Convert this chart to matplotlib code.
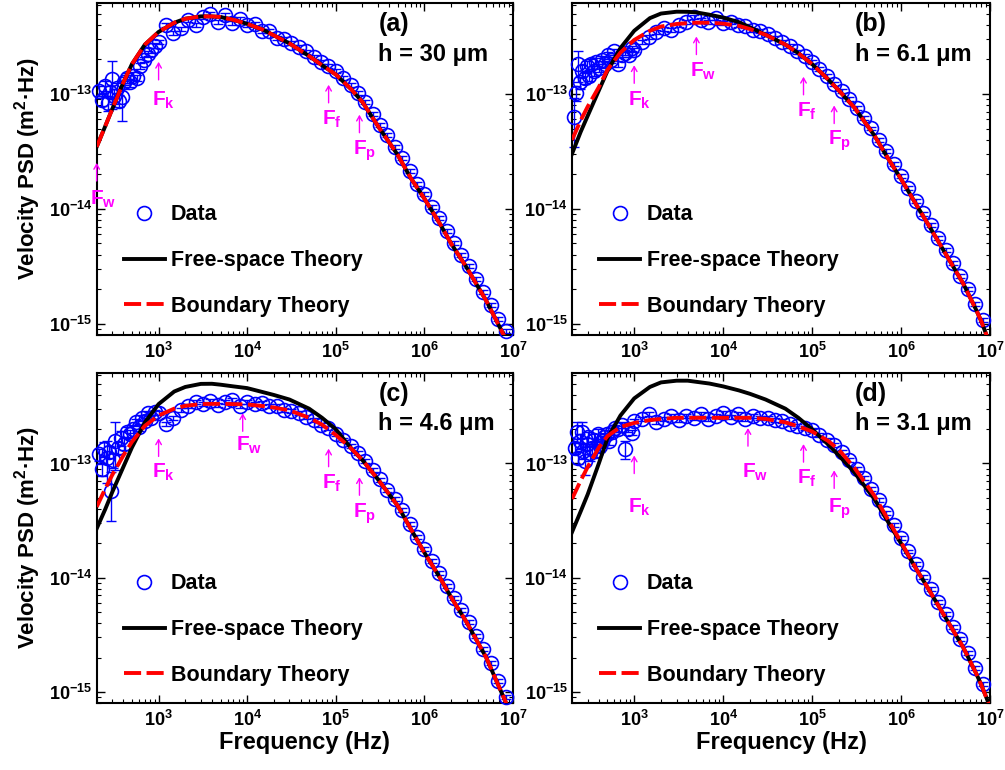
import numpy as np
import matplotlib
matplotlib.use('Agg')
import matplotlib.pyplot as plt
from matplotlib.ticker import FixedLocator, NullFormatter

plt.rcParams['font.family'] = ['Liberation Sans', 'DejaVu Sans']
plt.rcParams['font.weight'] = 'bold'
plt.rcParams['axes.labelweight'] = 'bold'
plt.rcParams['mathtext.fontset'] = 'custom'
plt.rcParams['mathtext.rm'] = 'Liberation Sans:bold'
plt.rcParams['mathtext.it'] = 'Liberation Sans:bold'
plt.rcParams['mathtext.bf'] = 'Liberation Sans:bold'
plt.rcParams['mathtext.default'] = 'regular'

# theory curves are given as log10(PSD) on this frequency grid
f_th = [200, 250, 300, 400, 500, 700, 1e3, 1.5e3, 2e3, 3e3, 4e3, 5e3, 7e3,
        1e4, 1.5e4, 2e4, 3e4, 5e4, 7e4, 1e5, 1.5e5, 2e5, 3e5, 5e5, 7e5,
        1e6, 1.5e6, 2e6, 3e6, 5e6, 7e6, 8e6, 1e7]

log_free_a = [-13.46, -13.28, -13.13, -12.90, -12.74, -12.57, -12.46, -12.38, -12.345, -12.325, -12.325,
              -12.33, -12.355, -12.39, -12.44, -12.49, -12.56, -12.67, -12.75, -12.83, -12.96, -13.07,
              -13.28, -13.53, -13.73, -13.91, -14.13, -14.30, -14.51, -14.80, -15.02, -15.11, -15.30]
log_bound_a = [-13.46, -13.28, -13.13, -12.90, -12.74, -12.57, -12.46, -12.38, -12.345, -12.325, -12.325,
               -12.33, -12.355, -12.39, -12.44, -12.49, -12.56, -12.67, -12.75, -12.83, -12.96, -13.07,
               -13.28, -13.53, -13.73, -13.91, -14.13, -14.30, -14.51, -14.80, -15.02, -15.11, -15.30]

log_free_b = [-13.52, -13.33, -13.19, -12.97, -12.80, -12.60, -12.45, -12.34, -12.30, -12.284, -12.285,
              -12.29, -12.31, -12.335, -12.375, -12.42, -12.485, -12.57, -12.645, -12.74, -12.87, -12.97,
              -13.12, -13.36, -13.55, -13.74, -13.97, -14.13, -14.36, -14.65, -14.88, -14.98, -15.18]
log_bound_b = [-13.40, -13.23, -13.11, -12.94, -12.79, -12.64, -12.53, -12.45, -12.413, -12.391, -12.383,
               -12.38, -12.38, -12.388, -12.407, -12.435, -12.485, -12.57, -12.645, -12.74, -12.87, -12.97,
               -13.12, -13.36, -13.55, -13.74, -13.97, -14.13, -14.36, -14.65, -14.88, -14.98, -15.18]

log_free_c = [-13.57, -13.40, -13.25, -13.03, -12.86, -12.64, -12.48, -12.37, -12.33, -12.303, -12.302,
              -12.31, -12.325, -12.34, -12.375, -12.40, -12.44, -12.52, -12.60, -12.70, -12.87, -12.97,
              -13.14, -13.37, -13.57, -13.78, -14.00, -14.17, -14.39, -14.70, -14.96, -15.06, -15.25]
log_bound_c = [-13.38, -13.22, -13.10, -12.93, -12.81, -12.67, -12.58, -12.52, -12.495, -12.48, -12.478,
               -12.478, -12.48, -12.483, -12.497, -12.51, -12.535, -12.60, -12.66, -12.75, -12.87, -12.97,
               -13.14, -13.37, -13.57, -13.78, -14.00, -14.17, -14.39, -14.70, -14.96, -15.06, -15.25]

log_free_d = [-13.60, -13.42, -13.27, -13.00, -12.78, -12.58, -12.43, -12.33, -12.29, -12.275, -12.275,
              -12.285, -12.30, -12.325, -12.36, -12.39, -12.44, -12.52, -12.60, -12.70, -12.83, -12.93,
              -13.08, -13.31, -13.50, -13.70, -13.93, -14.09, -14.32, -14.61, -14.84, -14.94, -15.13]
log_bound_d = [-13.31, -13.15, -13.03, -12.86, -12.76, -12.68, -12.645, -12.62, -12.61, -12.60, -12.60,
               -12.60, -12.60, -12.60, -12.60, -12.60, -12.61, -12.64, -12.675, -12.72, -12.80, -12.88,
               -13.04, -13.28, -13.48, -13.69, -13.93, -14.09, -14.32, -14.61, -14.84, -14.94, -15.13]

# measured spectra above 1 kHz (log-binned, shared frequencies)
f_data = [1000, 1210, 1470, 1780, 2150, 2610, 3160, 3830, 4640, 5620, 6810, 8250,
          1.0e4, 1.21e4, 1.47e4, 1.78e4, 2.15e4, 2.61e4, 3.16e4, 3.83e4, 4.64e4, 5.62e4, 6.81e4, 8.25e4,
          1.0e5, 1.21e5, 1.47e5, 1.78e5, 2.15e5, 2.61e5, 3.16e5, 3.83e5, 4.64e5, 5.62e5, 6.81e5, 8.25e5,
          1.0e6, 1.21e6, 1.47e6, 1.78e6, 2.15e6, 2.61e6, 3.16e6, 3.83e6, 4.64e6, 5.62e6, 6.81e6, 8.25e6]

log_data_a = [-12.55, -12.40, -12.47, -12.43, -12.36, -12.40, -12.33, -12.30, -12.37, -12.31, -12.38, -12.35,
              -12.40, -12.39, -12.45, -12.45, -12.51, -12.52, -12.56, -12.59, -12.63, -12.68, -12.72, -12.76,
              -12.80, -12.86, -12.92, -12.99, -13.07, -13.17, -13.27, -13.36, -13.46, -13.56, -13.67, -13.78,
              -13.87, -13.98, -14.08, -14.19, -14.30, -14.40, -14.50, -14.61, -14.72, -14.84, -14.96, -15.06]
log_data_b = [-12.62, -12.55, -12.50, -12.46, -12.43, -12.44, -12.40, -12.37, -12.33, -12.36, -12.37, -12.34,
              -12.38, -12.37, -12.40, -12.41, -12.44, -12.45, -12.48, -12.51, -12.55, -12.58, -12.63, -12.67,
              -12.72, -12.78, -12.84, -12.91, -12.97, -13.04, -13.12, -13.21, -13.30, -13.40, -13.50, -13.61,
              -13.71, -13.82, -13.93, -14.04, -14.14, -14.25, -14.36, -14.47, -14.58, -14.70, -14.83, -14.97]
log_data_c = [-12.56, -12.65, -12.60, -12.53, -12.50, -12.46, -12.48, -12.45, -12.49, -12.46, -12.44, -12.50,
              -12.46, -12.48, -12.47, -12.50, -12.50, -12.53, -12.54, -12.56, -12.59, -12.62, -12.66, -12.69,
              -12.74, -12.79, -12.85, -12.91, -12.98, -13.06, -13.14, -13.23, -13.31, -13.41, -13.53, -13.64,
              -13.75, -13.85, -13.96, -14.07, -14.18, -14.28, -14.39, -14.51, -14.62, -14.75, -14.90, -15.04]
log_data_d = [-12.63, -12.61, -12.57, -12.64, -12.61, -12.58, -12.62, -12.58, -12.60, -12.57, -12.61, -12.58,
              -12.56, -12.59, -12.57, -12.61, -12.58, -12.60, -12.60, -12.62, -12.63, -12.65, -12.67, -12.69,
              -12.71, -12.75, -12.79, -12.84, -12.90, -12.97, -13.05, -13.13, -13.22, -13.32, -13.43, -13.54,
              -13.65, -13.77, -13.88, -13.99, -14.10, -14.21, -14.32, -14.43, -14.54, -14.66, -14.79, -14.93]
rel_err_data = 0.04

# noisy low-frequency part of each spectrum, with relative error bars
f_low_a = [215, 230, 250, 265, 280, 295, 315, 340, 360, 383, 410, 440, 470, 520, 570, 620, 680, 750, 825, 900]
log_low_a = [-12.97, -13.05, -12.93, -13.08, -12.98, -12.87, -13.02, -12.95, -13.06, -13.03, -12.90, -12.86,
             -12.90, -12.84, -12.86, -12.76, -12.70, -12.65, -12.62, -12.58]
err_low_a = [0.10, 0.12, 0.10, 0.15, 0.12, 0.45, 0.15, 0.10, 0.12, 0.38, 0.12, 0.10,
             0.08, 0.08, 0.06, 0.06, 0.05, 0.05, 0.05, 0.05]

f_low_b = [210, 222, 235, 248, 262, 277, 293, 310, 330, 352, 376, 402, 432, 465, 505, 550, 600, 655, 720,
           790, 865, 940]
log_low_b = [-13.20, -12.99, -12.74, -12.90, -12.80, -12.86, -12.76, -12.84, -12.74, -12.80, -12.72, -12.77,
             -12.70, -12.74, -12.66, -12.70, -12.63, -12.74, -12.66, -12.64, -12.66, -12.60]
err_low_b = [0.45, 0.15, 0.30, 0.12, 0.12, 0.12, 0.12, 0.10, 0.10, 0.10, 0.08, 0.08, 0.08, 0.07, 0.07,
             0.06, 0.06, 0.06, 0.05, 0.05, 0.05, 0.05]

f_low_c = [215, 230, 245, 260, 275, 290, 305, 325, 350, 375, 405, 435, 470, 510, 555, 600, 650, 705, 765,
           830, 900]
log_low_c = [-12.92, -13.05, -12.87, -12.95, -12.90, -13.24, -12.97, -12.80, -12.86, -12.78, -12.83, -12.72,
             -12.74, -12.70, -12.64, -12.68, -12.60, -12.63, -12.56, -12.60, -12.55]
err_low_c = [0.12, 0.12, 0.15, 0.40, 0.12, 0.45, 0.15, 0.45, 0.12, 0.15, 0.12, 0.10, 0.08, 0.08, 0.07,
             0.07, 0.06, 0.06, 0.05, 0.05, 0.05]

f_low_d = [215, 225, 236, 248, 257, 268, 280, 293, 306, 320, 336, 352, 370, 390, 412, 436, 462, 492, 525,
           565, 610, 660, 720, 787, 860, 940]
log_low_d = [-12.86, -12.72, -12.95, -12.80, -12.72, -12.89, -12.98, -12.83, -12.77, -12.91, -12.86, -12.79,
             -12.89, -12.74, -12.85, -12.80, -12.77, -12.74, -12.80, -12.72, -12.69, -12.70, -12.66, -12.875,
             -12.70, -12.73]
err_low_d = [0.12, 0.20, 0.12, 0.15, 0.20, 0.15, 0.25, 0.12, 0.12, 0.15, 0.12, 0.12, 0.12, 0.10, 0.10,
             0.10, 0.08, 0.08, 0.08, 0.07, 0.07, 0.06, 0.06, 0.18, 0.06, 0.05]

# characteristic frequencies: (subscript, frequency, arrow tip log10, label baseline log10)
marks_a = [('k', 1.0e3, -12.72, -13.10), ('f', 8.3e4, -12.92, -13.27), ('p', 1.85e5, -13.18, -13.53),
           ('w', 200, -13.60, -13.965)]
marks_b = [('k', 1.0e3, -12.75, -13.10), ('w', 5.0e3, -12.50, -12.85), ('f', 8.0e4, -12.85, -13.20),
           ('p', 1.77e5, -13.10, -13.443)]
marks_c = [('k', 1.0e3, -12.78, -13.124), ('w', 8.9e3, -12.56, -12.89), ('f', 8.3e4, -12.87, -13.22),
           ('p', 1.85e5, -13.12, -13.472)]
marks_d = [('k', 1.0e3, -12.93, -13.43), ('w', 1.9e4, -12.69, -13.124), ('f', 8.0e4, -12.83, -13.177),
           ('p', 1.77e5, -13.06, -13.43)]

tags = ['(a)', '(b)', '(c)', '(d)']
heights = ['h = 30 μm', 'h = 6.1 μm', 'h = 4.6 μm', 'h = 3.1 μm']

x_major = [1e3, 1e4, 1e5, 1e6, 1e7]
y_major = [1e-15, 1e-14, 1e-13]

BLUE = '#0000FF'
MAGENTA = '#FF00FF'


def draw_panel(ax, log_free, log_bound, log_data, f_low, log_low, err_low, marks, tag, h_text):
    p_low = 10.0 ** np.array(log_low)
    p_data = 10.0 ** np.array(log_data)
    f_all = np.concatenate([f_low, f_data])
    p_all = np.concatenate([p_low, p_data])
    err_all = np.concatenate([p_low * np.array(err_low), p_data * rel_err_data])

    ax.errorbar(f_all, p_all, yerr=err_all, fmt='none', ecolor=BLUE, elinewidth=1.0,
                capsize=3.5, capthick=1.0, zorder=2, clip_on=False)
    h_data, = ax.plot(f_all, p_all, ls='none', marker='o', ms=10, mfc='none', mec=BLUE,
                      mew=1.2, zorder=3, clip_on=False)
    h_free, = ax.plot(f_th, 10.0 ** np.array(log_free), color='black', lw=2.8, zorder=4)
    h_bound, = ax.plot(f_th, 10.0 ** np.array(log_bound), color='#FF0000', lw=2.8,
                       dashes=(4.4, 1.4), zorder=5)

    for sub, f0, tip, base in marks:
        ax.annotate('', xy=(f0, 10.0 ** tip), xytext=(0, -13), textcoords='offset points',
                    arrowprops=dict(arrowstyle='->,head_length=0.35,head_width=0.2', color=MAGENTA,
                                    lw=1.0, shrinkA=0, shrinkB=0),
                    annotation_clip=False, zorder=6)
        ax.annotate(r'$F_{%s}$' % sub, xy=(f0, 10.0 ** base), xytext=(-4.5, 0),
                    textcoords='offset points', ha='left', va='baseline', color=MAGENTA,
                    fontsize=15, annotation_clip=False, zorder=6)

    ax.text(0.677, 0.937, tag, transform=ax.transAxes, fontsize=18, va='center', ha='left')
    ax.text(0.677, 0.846, h_text, transform=ax.transAxes, fontsize=17, va='center', ha='left')

    ax.legend([h_data, h_free, h_bound], ['Data', 'Free-space Theory', 'Boundary Theory'],
              loc='upper left', bbox_to_anchor=(0.065, 0.393), frameon=False, fontsize=15.5,
              handlelength=1.9, handletextpad=0.3, labelspacing=1.15, borderpad=0, borderaxespad=0)

    ax.set_xscale('log')
    ax.set_yscale('log')
    ax.set_xlim(200, 1e7)
    ax.set_ylim(8.0e-16, 6.2e-13)
    ax.xaxis.set_major_locator(FixedLocator(x_major))
    ax.yaxis.set_major_locator(FixedLocator(y_major))
    ax.xaxis.set_minor_formatter(NullFormatter())
    ax.yaxis.set_minor_formatter(NullFormatter())
    ax.tick_params(which='both', direction='in', top=True, right=True, labelsize=13)
    ax.tick_params(which='major', length=6, width=1.0)
    ax.tick_params(which='minor', length=3, width=0.8)
    ax.tick_params(axis='x', pad=5)
    ax.tick_params(axis='y', pad=3)
    for sp in ax.spines.values():
        sp.set_linewidth(1.5)


fig = plt.figure(figsize=(10.05, 7.7), dpi=100)
ax_a = fig.add_axes([0.0962, 0.565, 0.4142, 0.4312])
ax_b = fig.add_axes([0.5692, 0.565, 0.4159, 0.4312])
ax_c = fig.add_axes([0.0962, 0.0870, 0.4142, 0.4286])
ax_d = fig.add_axes([0.5692, 0.0870, 0.4159, 0.4286])

draw_panel(ax_a, log_free_a, log_bound_a, log_data_a, f_low_a, log_low_a, err_low_a, marks_a,
           tags[0], heights[0])
draw_panel(ax_b, log_free_b, log_bound_b, log_data_b, f_low_b, log_low_b, err_low_b, marks_b,
           tags[1], heights[1])
draw_panel(ax_c, log_free_c, log_bound_c, log_data_c, f_low_c, log_low_c, err_low_c, marks_c,
           tags[2], heights[2])
draw_panel(ax_d, log_free_d, log_bound_d, log_data_d, f_low_d, log_low_d, err_low_d, marks_d,
           tags[3], heights[3])

for ax in (ax_a, ax_c):
    ax.set_ylabel('Velocity PSD (m$^2$·Hz)', fontsize=16, labelpad=4)
for ax in (ax_c, ax_d):
    ax.set_xlabel('Frequency (Hz)', fontsize=17, labelpad=1)

fig.savefig('out.png', dpi=100)
